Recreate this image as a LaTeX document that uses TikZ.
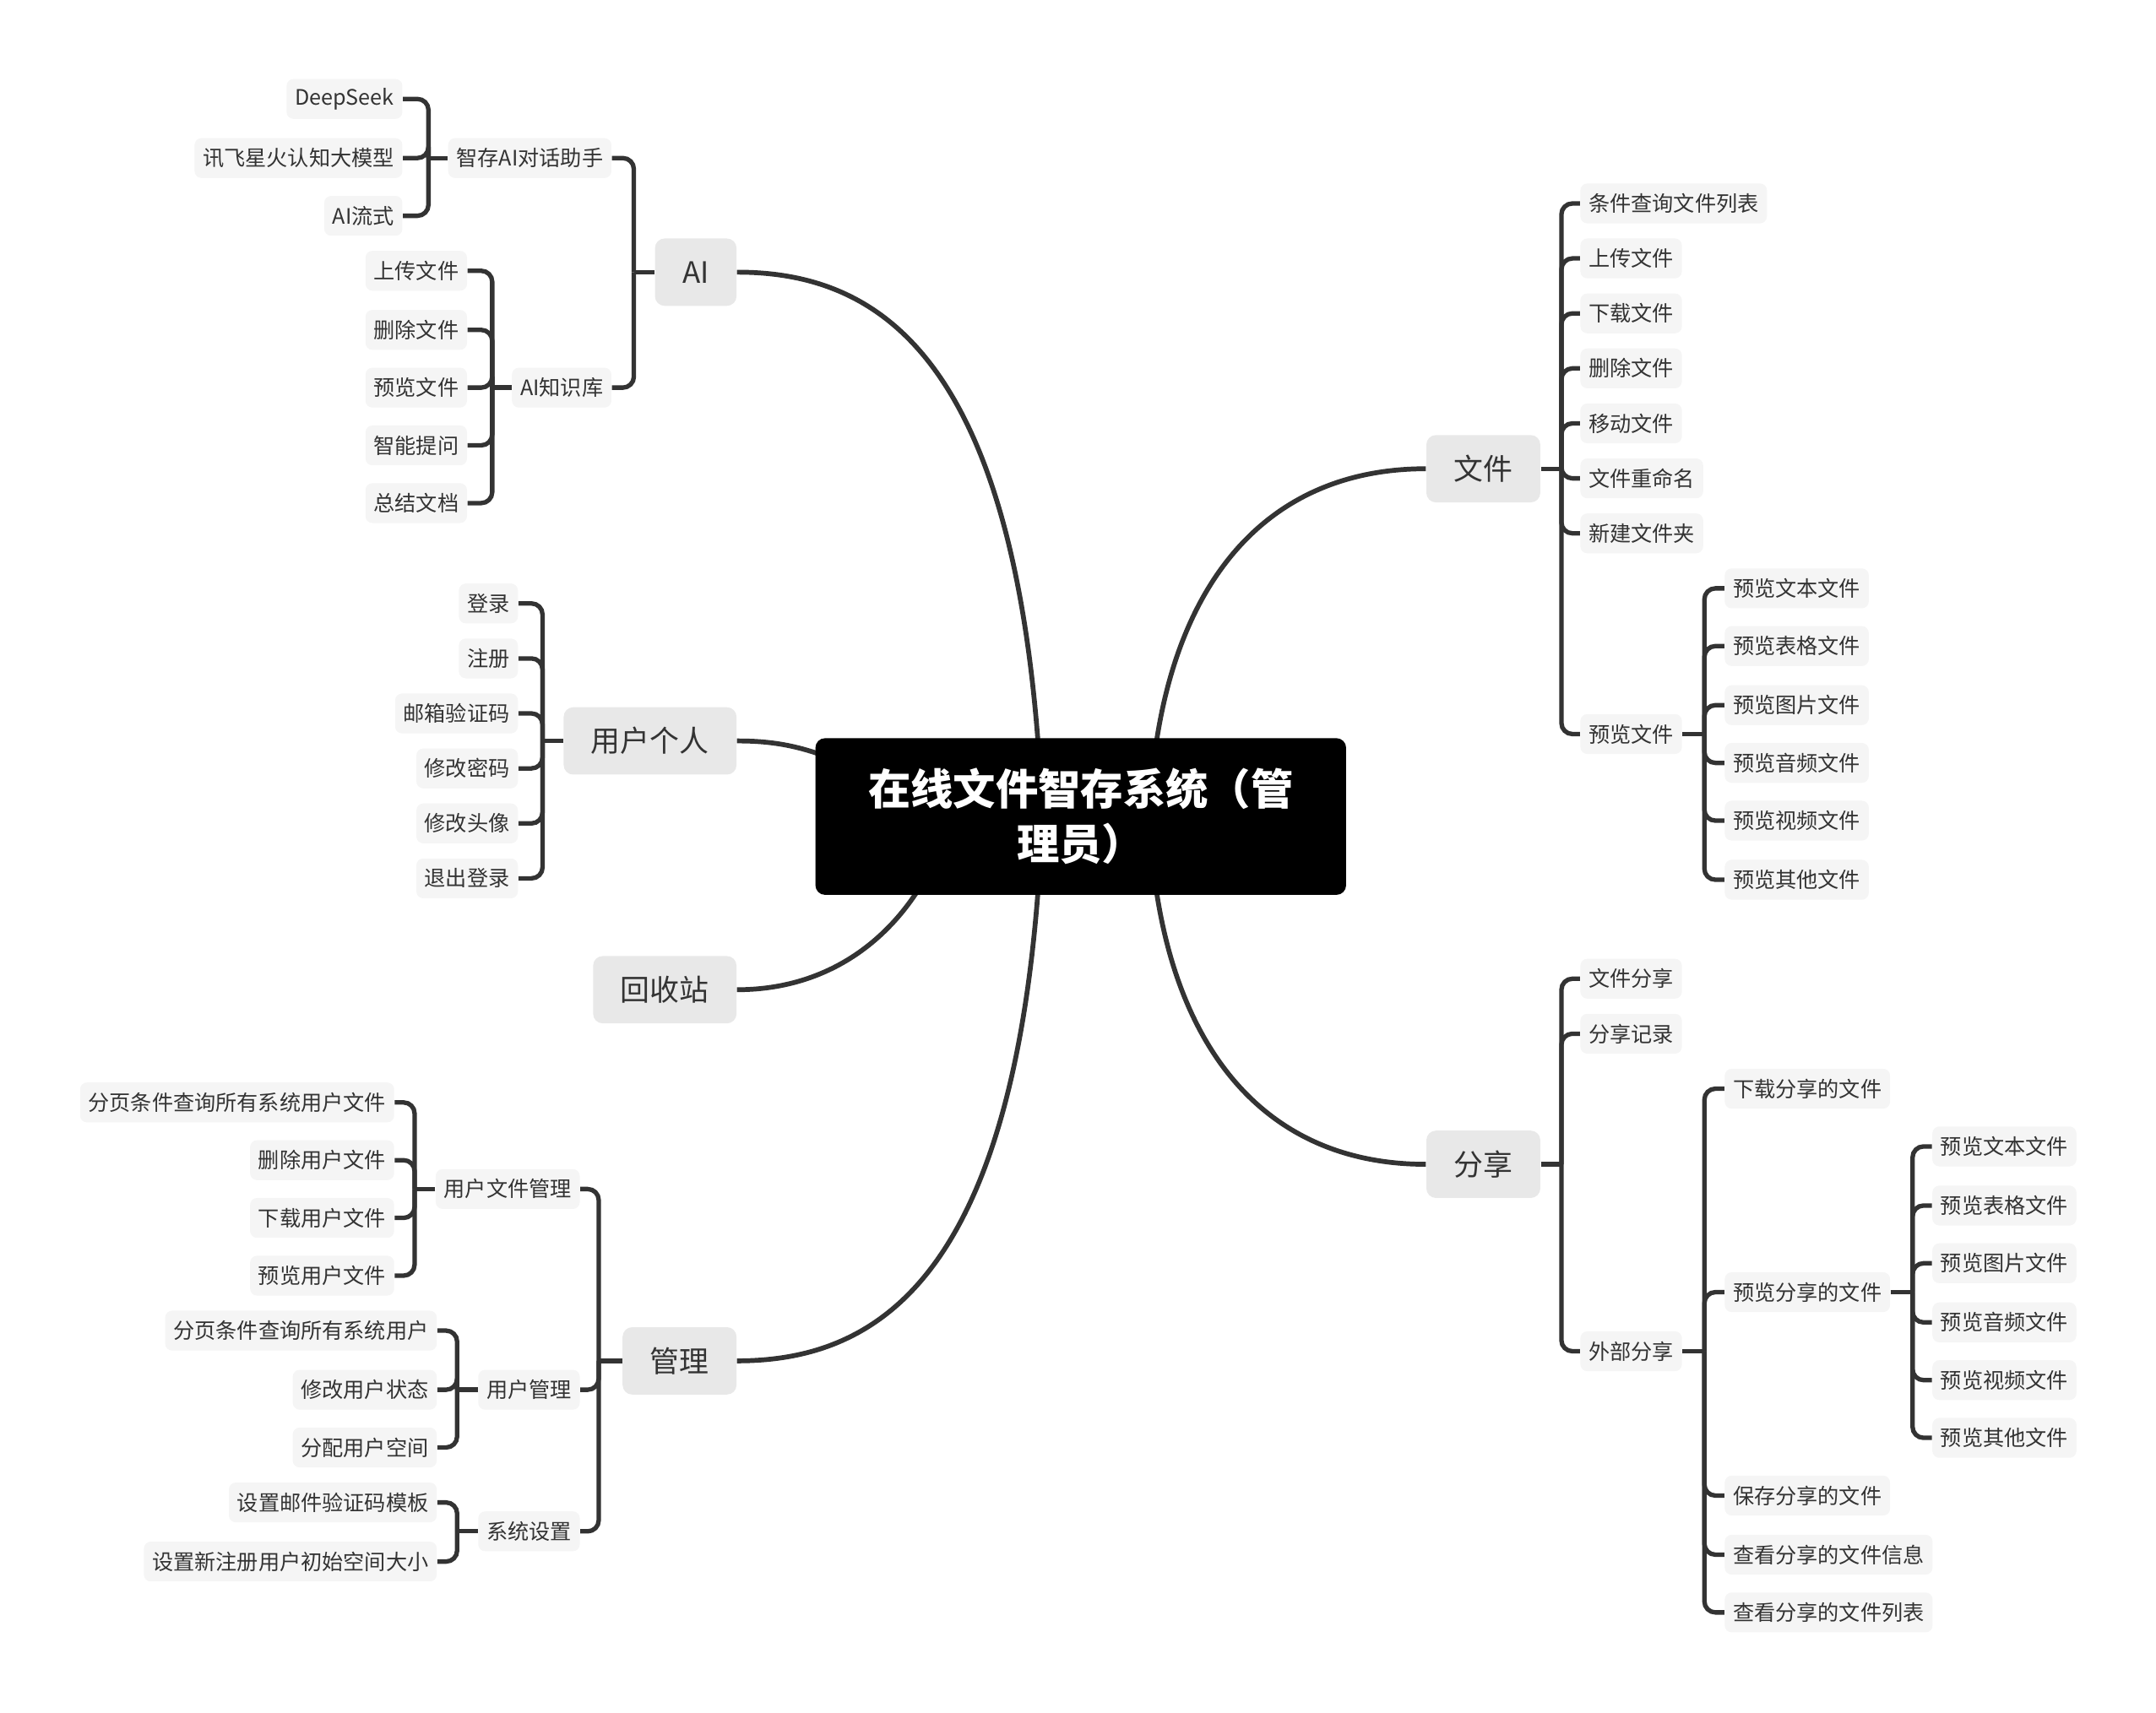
\documentclass[tikz,border=0pt]{standalone}
\usepackage{fontspec}
\setmainfont{Noto Sans CJK SC}
\usetikzlibrary{backgrounds}
\definecolor{linec}{HTML}{333333}
\definecolor{leaff}{HTML}{F5F5F5}
\definecolor{mainf}{HTML}{E8E8E8}
\definecolor{txt}{HTML}{333333}
\begin{document}
\begin{tikzpicture}[x=0.02cm,y=-0.02cm,
 leaf/.style={fill=leaff, rounded corners=0.1cm, inner xsep=0.12cm, inner ysep=0pt, minimum height=0.58cm, text=txt, font=\fontsize{8.8}{10}\selectfont},
 mainnode/.style={fill=mainf, rounded corners=0.14cm, inner xsep=0.4cm, inner ysep=0pt, minimum height=0.98cm, text=txt, font=\fontsize{12.2}{14}\selectfont},
 rootnode/.style={fill=black, rounded corners=0.14cm, minimum width=7.72cm, minimum height=2.28cm, text=white, align=center, font=\fontsize{17.6}{22.8}\selectfont\bfseries},
 br/.style={draw=linec, line width=1.85pt, rounded corners=0.16cm},
 curve/.style={draw=linec, line width=2pt},
]
\useasboundingbox (0,0) rectangle (1568,1246);

% root
\node[rootnode] (root) at (786,594) {在线文件智存系统（管\\理员）};

% main nodes
\node[mainnode, anchor=east] (ai) at (536,198) {AI};
\node[mainnode, anchor=east] (user) at (536,539) {用户个人};
\node[mainnode, anchor=east] (recycle) at (536,720) {回收站};
\node[mainnode, anchor=east] (manage) at (536,990) {管理};
\node[mainnode, anchor=west] (file) at (1037,341) {文件};
\node[mainnode, anchor=west] (share) at (1037,847) {分享};

% AI
\node[leaf, anchor=east] (chat) at (445,115) {智存AI对话助手};
\node[leaf, anchor=east] (kb) at (445,282) {AI知识库};
\node[leaf, anchor=east] (ds) at (293,72) {DeepSeek};
\node[leaf, anchor=east] (xf) at (293,115) {讯飞星火认知大模型};
\node[leaf, anchor=east] (ls) at (293,157) {AI流式};
\node[leaf, anchor=east] (kb1) at (340,197) {上传文件};
\node[leaf, anchor=east] (kb2) at (340,240) {删除文件};
\node[leaf, anchor=east] (kb3) at (340,282) {预览文件};
\node[leaf, anchor=east] (kb4) at (340,324) {智能提问};
\node[leaf, anchor=east] (kb5) at (340,366) {总结文档};

% user
\node[leaf, anchor=east] (u1) at (377,439) {登录};
\node[leaf, anchor=east] (u2) at (377,479) {注册};
\node[leaf, anchor=east] (u3) at (377,519) {邮箱验证码};
\node[leaf, anchor=east] (u4) at (377,559) {修改密码};
\node[leaf, anchor=east] (u5) at (377,599) {修改头像};
\node[leaf, anchor=east] (u6) at (377,639) {退出登录};

% manage
\node[leaf, anchor=east] (ufm) at (422,865) {用户文件管理};
\node[leaf, anchor=east] (um) at (422,1011) {用户管理};
\node[leaf, anchor=east] (ss) at (422,1114) {系统设置};
\node[leaf, anchor=east] (f1) at (287,802) {分页条件查询所有系统用户文件};
\node[leaf, anchor=east] (f2) at (287,844) {删除用户文件};
\node[leaf, anchor=east] (f3) at (287,886) {下载用户文件};
\node[leaf, anchor=east] (f4) at (287,928) {预览用户文件};
\node[leaf, anchor=east] (m1) at (318,968) {分页条件查询所有系统用户};
\node[leaf, anchor=east] (m2) at (318,1011) {修改用户状态};
\node[leaf, anchor=east] (m3) at (318,1053) {分配用户空间};
\node[leaf, anchor=east] (s1) at (318,1093) {设置邮件验证码模板};
\node[leaf, anchor=east] (s2) at (318,1136) {设置新注册用户初始空间大小};

% file
\node[leaf, anchor=west] (w1) at (1149,148) {条件查询文件列表};
\node[leaf, anchor=west] (w2) at (1149,188) {上传文件};
\node[leaf, anchor=west] (w3) at (1149,228) {下载文件};
\node[leaf, anchor=west] (w4) at (1149,268) {删除文件};
\node[leaf, anchor=west] (w5) at (1149,308) {移动文件};
\node[leaf, anchor=west] (w6) at (1149,348) {文件重命名};
\node[leaf, anchor=west] (w7) at (1149,388) {新建文件夹};
\node[leaf, anchor=west] (w8) at (1149,534) {预览文件};
\node[leaf, anchor=west] (p1) at (1254,428) {预览文本文件};
\node[leaf, anchor=west] (p2) at (1254,470) {预览表格文件};
\node[leaf, anchor=west] (p3) at (1254,513) {预览图片文件};
\node[leaf, anchor=west] (p4) at (1254,555) {预览音频文件};
\node[leaf, anchor=west] (p5) at (1254,597) {预览视频文件};
\node[leaf, anchor=west] (p6) at (1254,640) {预览其他文件};

% share
\node[leaf, anchor=west] (h1) at (1149,712) {文件分享};
\node[leaf, anchor=west] (h2) at (1149,752) {分享记录};
\node[leaf, anchor=west] (h3) at (1149,983) {外部分享};
\node[leaf, anchor=west] (e1) at (1254,792) {下载分享的文件};
\node[leaf, anchor=west] (e2) at (1254,940) {预览分享的文件};
\node[leaf, anchor=west] (e3) at (1254,1088) {保存分享的文件};
\node[leaf, anchor=west] (e4) at (1254,1131) {查看分享的文件信息};
\node[leaf, anchor=west] (e5) at (1254,1173) {查看分享的文件列表};
\node[leaf, anchor=west] (q1) at (1405,834) {预览文本文件};
\node[leaf, anchor=west] (q2) at (1405,877) {预览表格文件};
\node[leaf, anchor=west] (q3) at (1405,919) {预览图片文件};
\node[leaf, anchor=west] (q4) at (1405,962) {预览音频文件};
\node[leaf, anchor=west] (q5) at (1405,1004) {预览视频文件};
\node[leaf, anchor=west] (q6) at (1405,1046) {预览其他文件};

\begin{scope}[on background layer]
% main curves
\draw[curve] (758,594) .. controls (745,260) and (640,198) .. (ai.east);
\draw[curve] (758,594) .. controls (745,928) and (640,990) .. (manage.east);
\draw[curve] (650,575) .. controls (600,545) and (570,539) .. (user.east);
\draw[curve] (690,600) .. controls (668,668) and (615,720) .. (recycle.east);
\draw[curve] (836,594) .. controls (842,440) and (910,341) .. (file.west);
\draw[curve] (836,594) .. controls (842,748) and (910,847) .. (share.west);

% brackets, left side
\draw[br] (ai.west) -- ++(-15,0) coordinate (aij);
\foreach \c in {chat,kb} \draw[br] (aij) |- (\c.east);
\draw[br] (chat.west) -- ++(-14,0) coordinate (chj);
\foreach \c in {ds,xf,ls} \draw[br] (chj) |- (\c.east);
\draw[br] (kb.west) -- ++(-14,0) coordinate (kbj);
\foreach \c in {kb1,kb2,kb3,kb4,kb5} \draw[br] (kbj) |- (\c.east);
\draw[br] (user.west) -- ++(-15,0) coordinate (uj);
\foreach \c in {u1,u2,u3,u4,u5,u6} \draw[br] (uj) |- (\c.east);
\draw[br] (manage.west) -- ++(-17,0) coordinate (mj);
\foreach \c in {ufm,um,ss} \draw[br] (mj) |- (\c.east);
\draw[br] (ufm.west) -- ++(-15,0) coordinate (ufmj);
\foreach \c in {f1,f2,f3,f4} \draw[br] (ufmj) |- (\c.east);
\draw[br] (um.west) -- ++(-15,0) coordinate (umj);
\foreach \c in {m1,m2,m3} \draw[br] (umj) |- (\c.east);
\draw[br] (ss.west) -- ++(-15,0) coordinate (ssj);
\foreach \c in {s1,s2} \draw[br] (ssj) |- (\c.east);

% brackets, right side
\draw[br] (file.east) -- ++(15,0) coordinate (fj);
\foreach \c in {w1,w2,w3,w4,w5,w6,w7,w8} \draw[br] (fj) |- (\c.west);
\draw[br] (w8.east) -- ++(16,0) coordinate (w8j);
\foreach \c in {p1,p2,p3,p4,p5,p6} \draw[br] (w8j) |- (\c.west);
\draw[br] (share.east) -- ++(15,0) coordinate (sj);
\foreach \c in {h1,h2,h3} \draw[br] (sj) |- (\c.west);
\draw[br] (h3.east) -- ++(16,0) coordinate (h3j);
\foreach \c in {e1,e2,e3,e4,e5} \draw[br] (h3j) |- (\c.west);
\draw[br] (e2.east) -- ++(16,0) coordinate (e2j);
\foreach \c in {q1,q2,q3,q4,q5,q6} \draw[br] (e2j) |- (\c.west);
\end{scope}
\end{tikzpicture}
\end{document}
